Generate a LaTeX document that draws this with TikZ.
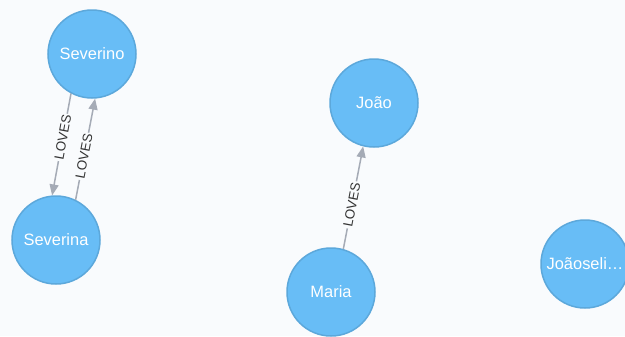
\documentclass[tikz,border=0pt]{standalone}
\usepackage{fontspec}
\setmainfont{Liberation Sans}
\usetikzlibrary{arrows.meta}
\definecolor{bg}{HTML}{F9FBFD}
\definecolor{nodefill}{HTML}{68BDF6}
\definecolor{nodeline}{HTML}{5CA8DB}
\definecolor{relline}{HTML}{A5ABB6}
\definecolor{reltext}{HTML}{333333}
\begin{document}
\begin{tikzpicture}[x=1bp,y=-1bp,
  person/.style={circle, fill=nodefill, draw=nodeline, line width=1.5bp,
    minimum size=88bp, inner sep=0pt, text=white,
    font=\fontsize{16.5}{17}\selectfont},
  rel/.style={draw=relline, line width=1.5bp, -{Triangle[length=11bp,width=9bp]}},
  rellabel/.style={fill=bg, inner sep=1.5bp, text=reltext,
    font=\fontsize{13.5}{13.5}\selectfont, sloped, pos=0.43}]
\fill[bg] (0,0) rectangle (625,336);
\useasboundingbox (0,0) rectangle (625,336);
\clip (0,0) rectangle (625,336);

\node[person] (severino) at (92,54) {Severino};
\node[person] (severina) at (56,240) {Severina};
\node[person] (joao) at (374,103) {João};
\node[person] (maria) at (331,292) {Maria};
\node[person] (joaoseli) at (585,264) {Joãoseli…};

\draw[rel] (severino.242) -- node[rellabel] {LOVES} (severina.95);
\draw[rel] (severina.64) -- node[rellabel] {LOVES} (severino.274);
\draw[rel] (maria.74) -- node[rellabel] {LOVES} (joao.256);
\end{tikzpicture}
\end{document}
